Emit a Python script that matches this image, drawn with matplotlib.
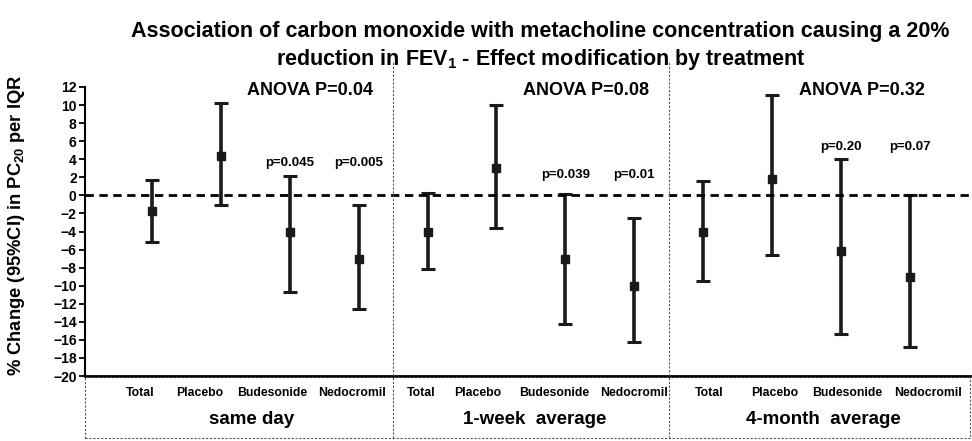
import matplotlib.pyplot as plt
from matplotlib.lines import Line2D
from matplotlib.patches import Rectangle

plt.rcParams['font.family'] = ['Liberation Sans', 'DejaVu Sans']
plt.rcParams['font.weight'] = 'bold'
plt.rcParams['axes.labelweight'] = 'bold'
plt.rcParams['mathtext.fontset'] = 'custom'
plt.rcParams['mathtext.rm'] = 'Liberation Sans:bold'
plt.rcParams['mathtext.bf'] = 'Liberation Sans:bold'
plt.rcParams['mathtext.default'] = 'bf'

groups = ['same day', '1-week  average', '4-month  average']
treatments = ['Total', 'Placebo', 'Budesonide', 'Nedocromil']
anova = ['ANOVA P=0.04', 'ANOVA P=0.08', 'ANOVA P=0.32']
pvals = [['p=0.045', 'p=0.005'], ['p=0.039', 'p=0.01'], ['p=0.20', 'p=0.07']]
pval_y = [3.6, 2.3, 5.4]

# estimate, lower, upper per group (Total, Placebo, Budesonide, Nedocromil)
est = [[-1.7, 4.4, -4.0, -7.0],
       [-4.0, 3.0, -7.0, -10.0],
       [-4.1, 1.8, -6.2, -9.0]]
low = [[-5.2, -1.1, -10.7, -12.6],
       [-8.1, -3.6, -14.2, -16.2],
       [-9.5, -6.6, -15.3, -16.8]]
upp = [[1.7, 10.2, 2.2, -1.1],
       [0.3, 10.0, 0.2, -2.5],
       [1.6, 11.1, 4.0, 0.0]]

fig = plt.figure(figsize=(9.72, 4.41), dpi=100)
ax = fig.add_axes([85 / 972, 1 - 376 / 441, 885 / 972, 289 / 441])

for g in range(3):
    xs = [g * 4 + i for i in range(4)]
    yerr = [[est[g][i] - low[g][i] for i in range(4)],
            [upp[g][i] - est[g][i] for i in range(4)]]
    ax.errorbar(xs, est[g], yerr=yerr, fmt='s', color='#1a1a1a', ms=5.5,
                elinewidth=2.6, capsize=5, capthick=2.2)
    ax.text(g * 4 + 2.3, 11.6, anova[g], ha='center', va='center', fontsize=13)
    for k in range(2):
        ax.text(g * 4 + 2 + k, pval_y[g], pvals[g][k],
                ha='center', va='center', fontsize=9.5)

ax.axhline(0, color='black', lw=2, ls=(0, (3, 2)))
ax.set_xlim(-0.97, 11.87)
ax.set_ylim(-20, 12)
ax.set_yticks(range(-20, 13, 2))
ax.tick_params(axis='y', labelsize=10, width=1.3, length=4.5, pad=1.5)
for lab in ax.get_yticklabels():
    lab.set_fontweight('bold')
ax.set_xticks([])
ax.spines['top'].set_visible(False)
ax.spines['right'].set_visible(False)
ax.spines['left'].set_linewidth(1.5)
ax.spines['bottom'].set_linewidth(2)
ax.set_ylabel('% Change (95%CI) in PC$_{20}$ per IQR', fontsize=13.2, va='center')
ax.yaxis.set_label_coords(-0.077, 0.52)

# treatment and period labels under the axis (labels sit slightly off the bar positions)
lab_shift = [[-0.17, -0.3, -0.26, -0.1],
             [-0.09, -0.27, -0.16, 0.0],
             [0.09, 0.04, 0.09, 0.26]]
grp_shift = [-0.05, 0.06, 0.24]
for g in range(3):
    for i, t in enumerate(treatments):
        ax.text(g * 4 + i + lab_shift[g][i], -21.9, t, ha='center', va='center', fontsize=8.8)
    ax.text(g * 4 + 1.5 + grp_shift[g], -24.8, groups[g], ha='center', va='center', fontsize=13.5)

# dashed dividers and bottom box
tr = fig.transFigure
for xd in [3.5, 7.5]:
    xf = fig.transFigure.inverted().transform(ax.transData.transform((xd, 0)))[0]
    fig.add_artist(Line2D([xf, xf], [1 - 438 / 441, 1 - 62 / 441], transform=tr,
                          color='#555555', lw=0.8, ls=(0, (2, 1.5))))
fig.add_artist(Rectangle((85 / 972, 1 - 438 / 441), (970 - 85) / 972, (438 - 377) / 441,
                         transform=tr, fill=False, ec='#555555', lw=0.8, ls=(0, (2, 1.5))))

fig.text(0.556, 0.895, 'Association of carbon monoxide with metacholine concentration causing a 20%\n'
         'reduction in FEV$_1$ - Effect modification by treatment',
         ha='center', va='center', fontsize=15.5, linespacing=1.3)

fig.savefig('out.png', dpi=100)
